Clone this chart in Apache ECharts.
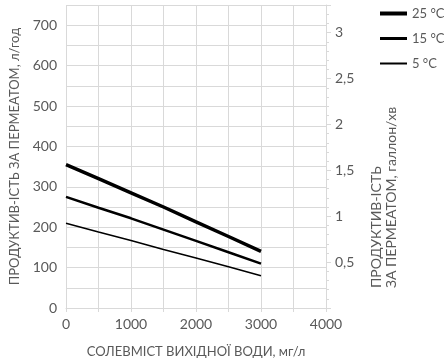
<!DOCTYPE html>
<html>
<head>
<meta charset="utf-8">
<script src="https://cdn.jsdelivr.net/npm/echarts@6/dist/echarts.min.js"></script>
<style>
  html, body { margin: 0; padding: 0; background: #fff; }
  #chart { width: 444px; height: 363px; }
</style>
</head>
<body>
<div id="chart"></div>
<script>
// солевміст, мг/л
const salinity = [0, 500, 1000, 1500, 2000, 2500, 3000]
// продуктивність, л/год
const flow25 = [355, 320, 285, 250, 213, 177, 140]
const flow15 = [275, 248, 222, 194, 166, 138, 110]
const flow5 = [210, 188, 167, 145, 124, 102, 80]
const seriesNames = ['25 °C', '15 °C', '5 °C']
const lineWidths = [3.5, 2.5, 1.5]
const LPH_PER_GPM = 227.125 // 1 галлон/хв у л/год

const grey = '#595959'
const gridColor = '#d9d9d9'
const font = 'Lato, "Open Sans", sans-serif'

function pairs(ys) {
  return salinity.map((x, i) => [x, ys[i]])
}

const myChart = echarts.init(document.getElementById('chart'))
const option = {
  animation: false,
  textStyle: { fontFamily: font },
  grid: { left: 64, right: 118, top: 5, bottom: 53 },
  legend: {
    orient: 'vertical',
    left: 378,
    top: 7,
    padding: 0,
    itemWidth: 27,
    itemHeight: 14,
    itemGap: 12,
    data: seriesNames.map((n, i) => ({
      name: n,
      lineStyle: { width: lineWidths[i] + 0.5, color: '#000' }
    })),
    itemStyle: { opacity: 0 },
    textStyle: { color: grey, fontSize: 13, fontFamily: font }
  },
  xAxis: {
    type: 'value',
    min: 0,
    max: 4000,
    interval: 500,
    name: 'СОЛЕВМІСТ ВИХІДНОЇ ВОДИ, мг/л',
    nameLocation: 'middle',
    nameGap: 37,
    nameTextStyle: { color: grey, fontSize: 13, fontFamily: font },
    axisLine: { lineStyle: { color: gridColor } },
    axisTick: { show: true, length: 4, lineStyle: { color: gridColor } },
    axisLabel: {
      color: grey, fontSize: 14, margin: 9,
      formatter: (v) => (v % 1000 === 0 ? String(v) : '')
    },
    splitLine: { show: true, lineStyle: { color: gridColor } }
  },
  yAxis: [
    {
      type: 'value',
      min: 0,
      max: 750,
      interval: 50,
      name: 'ПРОДУКТИВ-ІСТЬ ЗА ПЕРМЕАТОМ, л/год',
      nameLocation: 'middle',
      nameRotate: 90,
      nameGap: 45,
      nameTextStyle: { color: grey, fontSize: 13, fontFamily: font },
      axisLine: { show: false },
      axisTick: { show: false },
      axisLabel: {
        color: grey, fontSize: 14, margin: 9,
        formatter: (v) => (v % 100 === 0 && v <= 700 ? String(v) : '')
      },
      splitLine: { show: true, lineStyle: { color: gridColor } }
    },
    {
      type: 'value',
      position: 'right',
      min: 0,
      max: 750 / LPH_PER_GPM,
      interval: 0.5,
      axisLine: { show: true, lineStyle: { color: gridColor } },
      axisTick: { show: true, length: 5, lineStyle: { color: gridColor } },
      minorTick: { show: true, splitNumber: 5, length: 3, lineStyle: { color: gridColor } },
      axisLabel: {
        color: grey, fontSize: 14, margin: 9,
        formatter: (v) => (v > 0 && v < 3.1 ? String(v).replace('.', ',') : '')
      },
      splitLine: { show: false }
    }
  ],
  graphic: [
    {
      type: 'text',
      x: 369,
      y: 288,
      rotation: Math.PI / 2,
      style: {
        text: 'ПРОДУКТИВ-ІСТЬ\nЗА ПЕРМЕАТОМ, галлон/хв',
        fill: grey,
        font: '14px ' + font,
        textAlign: 'left',
        textVerticalAlign: 'top',
        lineHeight: 15
      }
    }
  ],
  series: seriesNames.map((n, i) => ({
    name: n,
    type: 'line',
    symbol: 'none',
    data: pairs([flow25, flow15, flow5][i]),
    lineStyle: { color: '#000', width: lineWidths[i] },
    itemStyle: { color: '#000' }
  }))
}
myChart.setOption(option)
</script>
</body>
</html>
